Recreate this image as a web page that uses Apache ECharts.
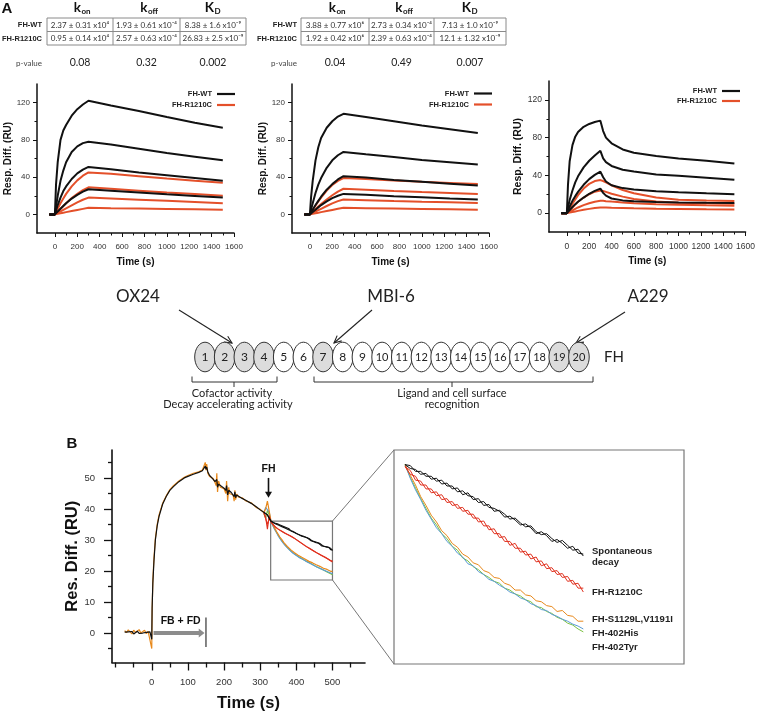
<!DOCTYPE html>
<html><head><meta charset="utf-8">
<script src="https://cdn.jsdelivr.net/npm/echarts@6/dist/echarts.min.js"></script>
<style>html,body{margin:0;padding:0;background:#fff}#c{width:758px;height:714px}</style>
</head><body><div id="c"></div><script>
// ================= PANEL A DATA =================
const tA = [-50, 0, 10, 25, 50, 75, 100, 150, 200, 250, 300, 500, 750, 1000, 1250, 1500];
const tA3 = [-50, 0, 10, 25, 50, 75, 100, 150, 200, 250, 300, 325, 350, 400, 500, 600, 800, 1000, 1250, 1500];
// OX24
const ox24WT = [
  [0,0,32,56,80,90,96,106,113,118,122,117,111,104.5,98.5,93],
  [0,0,8,20,36,47,56,67,73,76.5,78,75,70.5,66,62,58],
  [0,0,4,10,18,25,30,38,44,48,51,48.5,45,42,39,36],
  [0,0,1.2,3,6,9,12,17,21,24.5,27,25.5,23.5,21.5,19.8,18]
];
const ox24R = [
  [0,0,2.5,6,12,17,22,30,36.5,41.5,45,43.5,41,38.5,36.2,34],
  [0,0,1.2,3,6,9,12,17.5,22,26,29,27.5,25.5,23.5,21.8,20],
  [0,0,0.6,1.6,3.2,4.8,6.4,9.6,12.8,15.7,18,17,15.8,14.6,13.3,12],
  [0,0,0.2,0.6,1.2,1.8,2.4,3.6,4.8,5.9,7,6.6,6.2,5.8,5.4,5]
];
// MBI-6
const mbiWT = [
  [0,0,18,36,58,72,82,93,100,105,108,104.5,100,95.5,91.5,87.5],
  [0,0,5,12,23,32,39,50,58,63.5,67,64.5,61.5,58.5,56,53.5],
  [0,0,2,5,10,14.5,19,26.5,32.5,37.5,41,39.5,37,35,33,31],
  [0,0,1,2.5,5,7.5,10,14,17.5,20,22,21,19.5,18.3,17,16]
];
const mbiR = [
  [0,0,2,5,9.5,14,18,25.5,31.5,36,39,38,36.5,35,33.8,32.5],
  [0,0,1,2.7,5.5,8.5,11,16,20.5,24.5,27.5,26.5,25.2,24,23,22],
  [0,0,0.6,1.5,3,4.5,6,9,11.8,14.2,16,15.3,14.4,13.6,12.9,12.2],
  [0,0,0.25,0.6,1.2,1.8,2.4,3.6,4.8,6,7,6.7,6.3,5.9,5.5,5.1]
];
// A229
const a229WT = [
  [0,0,30,55,72,81,86,91.5,94.5,96.5,98,87,80,74,67.5,64,60.5,58,55.5,52.5],
  [0,0,6,14,24,32.5,39,48.5,55.5,61,66,58,54,50,46,44,41,39.5,37.5,35.3],
  [0,0,3,7,13,18,22.5,30,36,40.5,44,38,33.5,29.5,26.5,25,23.2,22.2,21,20],
  [0,0,1.3,3.3,6.5,9.5,12,16.5,20.5,23.5,26,21.5,18.5,15.5,13.5,12.5,11.8,11.3,11,10.8]
];
const a229R = [
  [0,0,2,5,10,14.5,19,26,31,34,35,34,32.5,29.5,24.5,21,16.5,14.3,13.3,12.8],
  [0,0,1.2,3,6,9,12,16.5,20,22.7,24,23.5,22.5,20.5,17.5,15,12.3,11,10.4,10],
  [0,0,0.6,1.5,3,4.5,6,8.5,10.5,12,13,13,12.7,12.2,11.3,10.5,9.5,9,8.3,7.8],
  [0,0,0.3,0.6,1.2,1.8,2.4,3.5,4.5,5.4,6,6,5.9,5.7,5.4,5.1,4.7,4.4,4.1,3.9]
];
const aXMajor = [0,200,400,600,800,1000,1200,1400,1600];
const aXMinor = [100,300,500,700,900,1100,1300,1500];
const aYMajor = [0,40,80,120];
const aYMinor = [20,60,100];

// Tables
const colHeads = [['k','on'],['k','off'],['K','D']];
const rowNames = ['FH-WT','FH-R1210C'];
const table1 = [['2.37 ± 0.31 x10⁴','1.93 ± 0.61 x10⁻⁴','8.38 ± 1.6 x10⁻⁹'],
                ['0.95 ± 0.14 x10⁴','2.57 ± 0.63 x10⁻⁴','26.83 ± 2.5 x10⁻⁹']];
const pvals1 = ['0.08','0.32','0.002'];
const table2 = [['3.88 ± 0.77 x10⁶','2.73 ± 0.34 x10⁻⁴','7.13 ± 1.0 x10⁻⁹'],
                ['1.92 ± 0.42 x10⁶','2.39 ± 0.63 x10⁻⁴','12.1 ± 1.32 x10⁻⁹']];
const pvals2 = ['0.04','0.49','0.007'];

// Domain diagram
const domains = [1,2,3,4,5,6,7,8,9,10,11,12,13,14,15,16,17,18,19,20];
const shadedDomains = [1,2,3,4,7,19,20];

// ================= PANEL B DATA =================
const tPre = [-75,-70,-65,-60,-55,-50,-45,-40,-35,-30,-25,-20,-15,-10,-5,
  0,1,3,6,10,15,20,30,40,50,60,75,90,100,115,130,140,145,148,150,152,155,160,170,175,178,180,182,185,190,200,205,207,210,213,215,220,225,228,230,232,235,240,250,260,275,290,300,305];
const blackPre = [0.3,-0.2,0.4,0.0,0.5,-0.3,0.2,0.6,-0.1,0.3,0.0,0.5,0.2,-0.2,0.4,
  -2.0,8,16,23,30,34.5,37.5,41.5,44,46,47.2,48.8,50,50.5,51.2,51.8,52.3,52.6,53.8,52.8,53.5,52.0,50.8,49.5,48.8,48.2,49.5,47.0,48.0,47.5,46.7,46.0,47.5,44.5,46.0,45.5,45.3,45.0,44.0,45.5,43.6,44.5,44.0,43.4,42.8,41.8,40.6,39.7,39.3];
const orangePre = [0.8,0.1,1.0,0.4,-0.3,0.9,0.2,0.7,1.1,0.0,0.6,0.9,-0.2,0.5,0.8,
  -5.0,7,17,24,30.5,35,38,41.8,44.2,46.2,47.5,49.0,50.2,50.8,51.5,52.0,52.5,53.0,55.0,52.5,54.5,51.5,50.5,49.8,48.5,47.5,51.5,45.5,49.0,47.0,46.5,45.0,49.0,42.5,47.0,45.0,45.5,44.5,42.5,46.0,43.0,44.8,43.8,43.6,42.6,42.0,40.4,39.9,39.5];
const tPost = [310,315,320,325,330,335,340,345,350,355,360,365,370,375,380,385,390,395,400,405,410,415,420,425,430,435,440,445,450,455,460,465,470,475,480,485,490,495,500];
const spontA = [38.9,38.5,38.1,37.0,36.0,35.9,35.3,35.3,34.8,34.8,34.3,34.4,33.8,33.8,33.2,33.3,32.8,32.7,32.1,32.2,31.6,31.5,31.2,30.6,30.7,30.3,29.8,29.9,29.5,28.9,29.1,28.7,28.1,28.3,27.9,27.4,27.6,26.9,26.8];
const spontB = [38.9,38.5,38.0,37.1,36.0,35.6,35.5,35.0,35.1,34.5,34.6,34.0,34.1,33.5,33.6,32.9,33.1,32.4,32.5,31.8,31.9,31.2,31.3,30.9,30.4,30.5,30.0,29.6,29.7,29.1,28.8,28.9,28.4,28.0,28.2,27.7,27.2,27.3,26.6];
const r1210cA = [38.8,37.5,33.5,37.8,35.8,35.4,34.4,34.3,33.5,33.5,32.8,32.9,32.1,32.2,31.5,31.6,30.9,30.9,30.1,30.2,29.3,29.4,28.5,28.6,27.7,27.9,27.0,27.1,26.3,26.5,25.6,25.8,25.0,25.1,24.4,24.5,23.7,23.8,22.9];
const r1210cB = [38.8,38.2,35.0,37.0,35.8,35.0,34.8,33.9,33.9,33.1,33.2,32.4,32.5,31.8,31.9,31.2,31.3,30.5,30.5,29.7,29.7,28.9,28.9,28.1,28.1,27.4,27.4,26.7,26.8,26.0,26.1,25.3,25.4,24.7,24.8,24.0,24.1,23.3,23.3];
const s1129l = [38.8,40.0,42.5,42.8,36.0,34.9,33.9,32.7,31.8,30.8,30.1,29.2,28.7,27.9,27.5,26.8,26.5,25.9,25.7,25.1,24.9,24.4,24.3,23.8,23.6,23.1,23.1,22.6,22.5,22.0,21.9,21.5,21.4,20.9,21.0,20.5,20.4,19.9,19.9];
const his402 = [38.8,40.5,41.0,39.0,36.0,34.6,33.4,32.4,31.3,30.4,29.5,28.9,28.1,27.6,26.9,26.5,25.8,25.6,25.0,24.7,24.2,24.0,23.6,23.3,22.9,22.7,22.3,22.1,21.7,21.5,21.1,21.0,20.6,20.4,20.1,19.9,19.6,19.4,19.1];
const tyr402 = [38.5,37.0,39.5,38.0,36.0,34.7,33.6,32.5,31.5,30.5,29.8,28.9,28.4,27.6,27.2,26.4,26.1,25.5,25.2,24.7,24.4,24.0,23.8,23.3,23.1,22.7,22.5,22.1,21.9,21.4,21.3,20.9,20.7,20.3,20.1,19.7,19.5,19.1,18.8];
const bXMajor = [0,100,200,300,400,500];
const bXMinor = [-100,-50,50,150,250,350,450,550];
const bYMajor = [0,10,20,30,40,50];
const bYMinor = [-5,5,15,25,35,45,55];
const insetLabels = [['Spontaneous',551],['decay',562],['FH-R1210C',592],['FH-S1129L,V1191I',619],['FH-402His',633],['FH-402Tyr',647]];

// ================= BUILD =================
const F = 'Liberation Sans, Arial, sans-serif';
const F2 = 'Lato, Calibri, sans-serif';
const BLACK = '#111', RED = '#e4502a';
const zip = (t, v) => t.map((x, i) => [x, v[i]]);
const plain = v => String(v);

const grids = [
  {left:37, top:84, width:197, height:149},
  {left:292, top:84, width:197, height:149},
  {left:549, top:81, width:198, height:151},
  {left:112, top:450, width:253, height:212.5},
  {left:394, top:450, width:290, height:214, show:true, borderColor:'#777', borderWidth:1.2, backgroundColor:'transparent'}
];
const xAxis = [], yAxis = [];
const yNameGap = [21, 22, 24];
for (let i = 0; i < 3; i++) {
  xAxis.push({type:'value', gridIndex:i, min:-160, max:1600, position:'bottom',
    axisLine:{show:true, onZero:false, lineStyle:{color:BLACK, width:1.5}},
    axisTick:{show:true, customValues:aXMajor, length:4, lineStyle:{color:BLACK, width:1}},
    axisLabel:{customValues:aXMajor, formatter:plain, fontSize:i===2?8.5:8, color:'#333', margin:10, fontFamily:F},
    splitLine:{show:false},
    name:'Time (s)', nameLocation:'middle', nameGap:24,
    nameTextStyle:{fontSize:10, fontWeight:'bold', color:BLACK, fontFamily:F}});
  xAxis.push({type:'value', gridIndex:i, min:-160, max:1600, position:'bottom',
    axisLine:{show:false, onZero:false}, axisLabel:{show:false}, splitLine:{show:false},
    axisTick:{show:true, customValues:aXMinor, length:2.5, lineStyle:{color:BLACK, width:1}}});
  yAxis.push({type:'value', gridIndex:i, min:-20, max:140, position:'left',
    axisLine:{show:true, onZero:false, lineStyle:{color:BLACK, width:1.5}},
    axisTick:{show:true, customValues:aYMajor, length:4, lineStyle:{color:BLACK, width:1}},
    axisLabel:{customValues:aYMajor, formatter:plain, fontSize:i===2?8.5:8, color:'#333', margin:7, fontFamily:F},
    splitLine:{show:false},
    name:'Resp. Diff. (RU)', nameLocation:'middle', nameGap:yNameGap[i],
    nameTextStyle:{fontSize:i===2?10.5:10, fontWeight:'bold', color:BLACK, fontFamily:F}});
  yAxis.push({type:'value', gridIndex:i, min:-20, max:140, position:'left',
    axisLine:{show:false, onZero:false}, axisLabel:{show:false}, splitLine:{show:false},
    axisTick:{show:true, customValues:aYMinor, length:2.5, lineStyle:{color:BLACK, width:1}}});
}
// panel B main
xAxis.push({type:'value', gridIndex:3, min:-110, max:590, position:'bottom',
  axisLine:{show:true, onZero:false, lineStyle:{color:BLACK, width:1.6}},
  axisTick:{show:true, customValues:bXMajor, length:8, lineStyle:{color:BLACK, width:1.3}},
  axisLabel:{customValues:bXMajor, formatter:plain, fontSize:9.5, color:'#333', margin:15, fontFamily:F},
  splitLine:{show:false},
  name:'Time (s)', nameLocation:'middle', nameGap:32,
  nameTextStyle:{fontSize:16.5, fontWeight:'bold', color:BLACK, fontFamily:F, padding:[0,0,0,20]}});
xAxis.push({type:'value', gridIndex:3, min:-110, max:590, position:'bottom',
  axisLine:{show:false, onZero:false}, axisLabel:{show:false}, splitLine:{show:false},
  axisTick:{show:true, customValues:bXMinor, length:5, lineStyle:{color:BLACK, width:1.3}}});
yAxis.push({type:'value', gridIndex:3, min:-9.5, max:59, position:'left',
  axisLine:{show:true, onZero:false, lineStyle:{color:BLACK, width:1.6}},
  axisTick:{show:true, customValues:bYMajor, length:8, lineStyle:{color:BLACK, width:1.3}},
  axisLabel:{customValues:bYMajor, formatter:plain, fontSize:9.5, color:'#333', margin:17, fontFamily:F},
  splitLine:{show:false},
  name:'Res. Diff. (RU)', nameLocation:'middle', nameGap:28,
  nameTextStyle:{fontSize:16.5, fontWeight:'bold', color:BLACK, fontFamily:F}});
yAxis.push({type:'value', gridIndex:3, min:-9.5, max:59, position:'left',
  axisLine:{show:false, onZero:false}, axisLabel:{show:false}, splitLine:{show:false},
  axisTick:{show:true, customValues:bYMinor, length:4, lineStyle:{color:BLACK, width:1.3}}});
// inset
xAxis.push({type:'value', gridIndex:4, min:319.5, max:596, show:false});
yAxis.push({type:'value', gridIndex:4, min:15.5, max:37.5, show:false});

const series = [];
function line(name, data, xi, yi, color, w, z) {
  series.push({type:'line', name, data, xAxisIndex:xi, yAxisIndex:yi, symbol:'none', showSymbol:false,
    lineStyle:{color, width:w}, itemStyle:{color}, z:z||2, silent:true, animation:false});
}
const panelA = [[tA, ox24WT, ox24R], [tA, mbiWT, mbiR], [tA3, a229WT, a229R]];
panelA.forEach(([t, wt, r], i) => {
  r.forEach(v => line('FH-R1210C', zip(t, v), 2*i, 2*i, RED, 2));
  wt.forEach(v => line('FH-WT', zip(t, v), 2*i, 2*i, BLACK, 2));
});
// panel B main
const CB = {black:'#111', red:'#e0301e', orange:'#e8891c', blue:'#5a9bd4', green:'#7cc242'};
line('FH-402Tyr', zip(tPost, tyr402), 6, 6, CB.green, 1.1);
line('FH-402His', zip(tPost, his402), 6, 6, CB.blue, 1.1);
line('FH-S1129L,V1191I', zip(tPre, orangePre).concat(zip(tPost, s1129l)), 6, 6, CB.orange, 1.2);
line('FH-R1210C B', zip(tPost, r1210cA), 6, 6, CB.red, 1.1);
line('FH-R1210C B2', zip(tPost, r1210cB), 6, 6, CB.red, 1.1);
line('Spontaneous decay 2', zip(tPost, spontB), 6, 6, CB.black, 1.1);
line('Spontaneous decay', zip(tPre, blackPre).concat(zip(tPost, spontA)), 6, 6, CB.black, 1.2);
series[series.length-1].markArea = {silent:true, itemStyle:{color:'rgba(0,0,0,0)', borderColor:'#777', borderWidth:1.2},
  data:[[{coord:[329, 36.1]}, {coord:[500, 17.1]}]]};
// inset (same traces, from 330 s on)
const s4 = a => a.slice(4), t4 = tPost.slice(4);
line('i-tyr', zip(t4, s4(tyr402)), 8, 8, CB.green, 1);
line('i-his', zip(t4, s4(his402)), 8, 8, CB.blue, 1);
line('i-s1129', zip(t4, s4(s1129l)), 8, 8, CB.orange, 1);
line('i-r1', zip(t4, s4(r1210cA)), 8, 8, CB.red, 1);
line('i-r2', zip(t4, s4(r1210cB)), 8, 8, CB.red, 1);
line('i-s1', zip(t4, s4(spontA)), 8, 8, CB.black, 1);
line('i-s2', zip(t4, s4(spontB)), 8, 8, CB.black, 1);

const legendBase = {data:['FH-WT','FH-R1210C'], orient:'vertical', align:'right', icon:'rect',
  itemWidth:18, itemHeight:2.2, itemGap:3, padding:0, selectedMode:false,
  textStyle:{fontSize:7.5, fontWeight:'bold', color:'#222', fontFamily:F}};
const legends = [
  Object.assign({}, legendBase, {right:523, top:90}),
  Object.assign({}, legendBase, {right:266, top:89.5}),
  Object.assign({}, legendBase, {right:18, top:87, itemGap:2})
];

const chart = echarts.init(document.getElementById('c'));
chart.setOption({animation:false, backgroundColor:'#fff', grid:grids, xAxis, yAxis, series, legend:legends});

// ================= GRAPHICS =================
const G = [];
function T(x, y, text, o) {
  G.push({type:'text', x, y, silent:true, style:Object.assign({text, fill:'#222', fontFamily:F2, fontSize:10, align:'center', verticalAlign:'middle'}, o||{})});
}
function L(x1, y1, x2, y2, stroke, w) { G.push({type:'line', silent:true, shape:{x1, y1, x2, y2}, style:{stroke, lineWidth:w}}); }
function arrowV(x1, y1, x2, y2, head, color, w) {
  L(x1, y1, x2, y2, color, w);
  const a = Math.atan2(y2 - y1, x2 - x1);
  G.push({type:'polyline', silent:true, shape:{points:[[x2 - head*Math.cos(a - 0.45), y2 - head*Math.sin(a - 0.45)], [x2, y2], [x2 - head*Math.cos(a + 0.45), y2 - head*Math.sin(a + 0.45)]]},
    style:{stroke:color, lineWidth:w, fill:null}});
}
T(7, 9, 'A', {fontFamily:F, fontWeight:'bold', fontSize:15, fill:'#111'});
T(72, 444, 'B', {fontFamily:F, fontWeight:'bold', fontSize:15, fill:'#111'});

function table(xs, rows, pv, labelRight) {
  const ys = [18, 31.5, 45];
  G.push({type:'rect', silent:true, shape:{x:xs[0], y:ys[0], width:xs[3]-xs[0], height:ys[2]-ys[0]}, style:{fill:'none', stroke:'#8a8a8a', lineWidth:1}});
  L(xs[0], ys[1], xs[3], ys[1], '#8a8a8a', 1);
  L(xs[1], ys[0], xs[1], ys[2], '#8a8a8a', 1);
  L(xs[2], ys[0], xs[2], ys[2], '#8a8a8a', 1);
  for (let c = 0; c < 3; c++) {
    const cx = (xs[c] + xs[c+1]) / 2;
    // main letter and lowered subscript
    T(cx + 1, 7.5, colHeads[c][0], {align:'right', fontSize:13.5, fontWeight:'bold', fill:'#111'});
    T(cx + 1.5, 11, colHeads[c][1], {align:'left', fontSize:8, fontWeight:'bold', fill:'#111'});
    for (let r = 0; r < 2; r++) T(cx, (ys[r] + ys[r+1]) / 2 + 0.5, rows[r][c], {fontSize:8, fill:'#333'});
    T(cx, 63, pv[c], {fontSize:10.5, fill:'#222'});
  }
  for (let r = 0; r < 2; r++) T(labelRight, (ys[r] + ys[r+1]) / 2 + 0.5, rowNames[r], {align:'right', fontSize:7.5, fontWeight:'bold', fontFamily:F, fill:'#222'});
  T(labelRight, 63, 'p-value', {align:'right', fontSize:8, fill:'#444'});
}
table([47, 113, 180, 246], table1, pvals1, 42);
table([301, 369, 434, 506], table2, pvals2, 297);

// antibodies and arrows
T(138, 297, 'OX24', {fontSize:17, fill:'#222'});
T(391, 297, 'MBI-6', {fontSize:17, fill:'#222'});
T(648, 297, 'A229', {fontSize:17, fill:'#222'});
arrowV(179, 310, 232, 343, 8, '#222', 1.1);
arrowV(372, 310, 334, 343, 8, '#222', 1.1);
arrowV(625, 312, 576, 343, 8, '#222', 1.1);
// domains
domains.forEach((d, i) => {
  const cx = 205 + i * 19.68;
  G.push({type:'ellipse', silent:true, shape:{cx, cy:357, rx:10.3, ry:14.8},
    style:{fill: shadedDomains.includes(d) ? '#dcdcdc' : '#fff', stroke:'#333', lineWidth:1}});
  T(cx, 357.5, String(d), {fontSize:d >= 10 ? 11 : 12, fill:'#222'});
});
T(614, 357, 'FH', {fontSize:15, fill:'#222'});
G.push({type:'polyline', silent:true, shape:{points:[[192,376.5],[192,382],[277,382],[277,376.5]]}, style:{stroke:'#333', lineWidth:1, fill:null}});
L(234, 382, 234, 387, '#333', 1);
G.push({type:'polyline', silent:true, shape:{points:[[314,376.5],[314,382],[593,382],[593,376.5]]}, style:{stroke:'#333', lineWidth:1, fill:null}});
L(452, 382, 452, 387, '#333', 1);
T(232, 393.5, 'Cofactor activity', {fontSize:11});
T(228, 404.5, 'Decay accelerating activity', {fontSize:11});
T(452, 393.5, 'Ligand and cell surface', {fontSize:11});
T(452, 404.5, 'recognition', {fontSize:11});

// panel B annotations (data-positioned)
const P = (t, v) => chart.convertToPixel({xAxisIndex:6, yAxisIndex:6}, [t, v]);
const fhTop = P(323, 50), fhTip = P(323, 43.6), fhTxt = P(323, 52.7);
T(fhTxt[0], fhTxt[1], 'FH', {fontFamily:F, fontWeight:'bold', fontSize:10.5, fill:'#111'});
L(fhTop[0], fhTop[1], fhTip[0], fhTip[1] - 4, '#111', 1.6);
G.push({type:'polygon', silent:true, shape:{points:[[fhTip[0]-3.5, fhTip[1]-6], [fhTip[0]+3.5, fhTip[1]-6], [fhTip[0], fhTip[1]]]}, style:{fill:'#111'}});
const fbS = P(5, 0), fbH = P(130, 0), fbT = P(146, 0), fbL1 = P(150, 5), fbL2 = P(150, -4.5), fbTxt = P(80, 3.8);
const y0 = fbS[1];
G.push({type:'polygon', silent:true, shape:{points:[[fbS[0], y0-2], [fbH[0], y0-2], [fbH[0], y0-4.5], [fbT[0], y0], [fbH[0], y0+4.5], [fbH[0], y0+2], [fbS[0], y0+2]]}, style:{fill:'#8c8c8c'}});
L(fbL1[0], fbL1[1], fbL2[0], fbL2[1], '#222', 1.1);
T(fbTxt[0], fbTxt[1], 'FB + FD', {fontFamily:F, fontWeight:'bold', fontSize:10.5, fill:'#111'});
// zoom connectors
const zTop = P(500, 36.1), zBot = P(500, 17.1);
L(zTop[0], zTop[1], 394, 450, '#777', 1);
L(zBot[0], zBot[1], 394, 664, '#777', 1);
insetLabels.forEach(([s, y]) => T(592, y, s, {align:'left', fontFamily:F, fontWeight:'bold', fontSize:9.5, fill:'#222'}));

chart.setOption({graphic:G});
</script></body></html>
